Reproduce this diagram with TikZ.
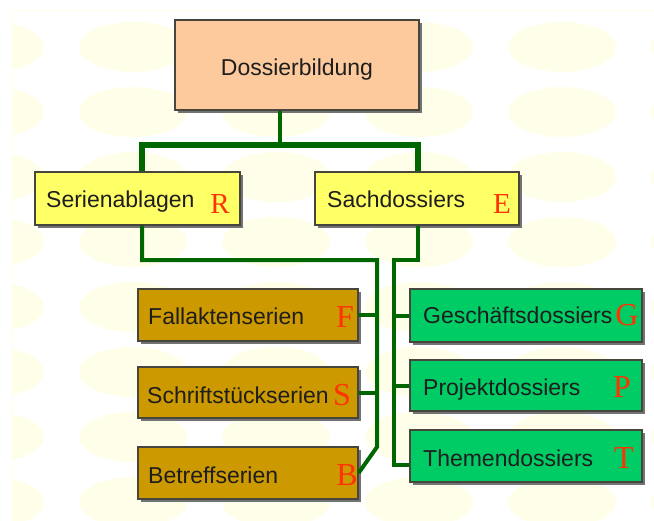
\documentclass[tikz,border=0pt]{standalone}
\usepackage{fontspec}
\setmainfont{Liberation Sans}
\newfontfamily\letterfont{Liberation Serif}
\usetikzlibrary{shadows}

\definecolor{peach}{RGB}{252,202,156}
\definecolor{lemon}{RGB}{255,255,102}
\definecolor{ochre}{RGB}{204,153,0}
\definecolor{mint}{RGB}{0,204,102}
\definecolor{wirecol}{RGB}{0,102,0}
\definecolor{letterred}{RGB}{255,51,0}
\definecolor{paleyellow}{RGB}{255,255,233}
\definecolor{inktext}{RGB}{30,30,30}
\definecolor{boxedge}{RGB}{70,70,60}

\begin{document}
\begin{tikzpicture}[x=1pt,y=-1pt,
  box/.style={draw=boxedge, line width=1.2pt, inner sep=0pt,
    drop shadow={shadow xshift=2.5pt, shadow yshift=-2.5pt, fill=black!55, opacity=1}},
  topbox/.style={box, fill=peach, minimum width=244pt, minimum height=90pt},
  midbox/.style={box, fill=lemon, minimum width=205pt, minimum height=53pt},
  serbox/.style={box, fill=ochre, minimum width=220pt, minimum height=52pt},
  sachbox/.style={box, fill=mint, minimum width=232pt, minimum height=52pt},
  lbl/.style={anchor=base west, inner sep=0pt, text=inktext, font=\fontsize{23}{27}\selectfont},
  ltr/.style={anchor=base, inner sep=0pt, text=letterred, font=\letterfont\fontsize{32}{36}\selectfont},
  ltrtop/.style={ltr, font=\letterfont\fontsize{29}{33}\selectfont},
  wire/.style={draw=wirecol, line width=4pt},
  bgell/.style={fill=paleyellow}]

\useasboundingbox (0,0) rectangle (654,520);

% background: white sheet with a grid of pale yellow ellipses
\fill[white] (0,0) rectangle (654,520);
\begin{scope}
  \clip (12,10) rectangle (654,520);
  \foreach \cx in {-10,133,276,419,562,705}
    \foreach \cy in {47,112,177,242,307,372,437,502,567}
      \fill[bgell] (\cx,\cy) ellipse [x radius=54, y radius=25];
\end{scope}
\draw[paleyellow, line width=1pt] (12,520) |- (654,10);

% boxes
\node[topbox] (top) at (297,65) {};
\node[midbox] (ser) at (137.5,198.5) {};
\node[midbox, minimum width=204pt] (sach) at (417,198.5) {};

\node[serbox] (fall) at (248,315) {};
\node[serbox, minimum height=51pt] (schr) at (248,392.5) {};
\node[serbox] (bet) at (248,473) {};

\node[sachbox, minimum height=53pt] (gesch) at (526,315.5) {};
\node[sachbox, minimum height=51pt] (proj) at (526,385.5) {};
\node[sachbox] (them) at (526,456) {};

% texts
\node[lbl, anchor=base] (top-t) at (297,75) {Dossierbildung};
\node[lbl] (ser-t) at (46,207) {Serienablagen};
\node[lbl] (sach-t) at (327,207) {Sachdossiers};
\node[lbl] (fall-t) at (148,324) {Fallaktenserien};
\node[lbl] (schr-t) at (147,403) {Schriftstückserien};
\node[lbl] (bet-t) at (148,483) {Betreffserien};
\node[lbl] (gesch-t) at (423,323) {Geschäftsdossiers};
\node[lbl] (proj-t) at (423,395) {Projektdossiers};
\node[lbl] (them-t) at (423,466) {Themendossiers};

% letters
\node[ltrtop] (ser-l) at (220,213) {R};
\node[ltrtop] (sach-l) at (502,213) {E};
\node[ltr] (fall-l) at (345,327) {F};
\node[ltr] (schr-l) at (342,405) {S};
\node[ltr] (bet-l) at (347,485) {B};
\node[ltr] (gesch-l) at (627,325) {G};
\node[ltr] (proj-l) at (622,397) {P};
\node[ltr] (them-l) at (624,468) {T};

% connectors
\coordinate (jtop) at (280,145);
\coordinate (jl) at (142,260);
\coordinate (jr) at (418,260);
\coordinate (tl) at (377,447);
\coordinate (tr) at (394,465);

\draw[wire] (top.south -| jtop) -- (jtop);
\draw[wire, line width=5.5pt] (ser.north -| jl) |- (jtop) -| (sach.north -| jr);
\draw[wire] (ser.south -| jl) -- (jl) -| (tl) -- (bet.east);
\draw[wire] (sach.south -| jr) -- (jr) -| (tr) -- (them.west |- tr);
\draw[wire] (fall.east) -- (fall.east -| tl);
\draw[wire] (schr.east) -- (schr.east -| tl);
\draw[wire] (gesch.west) -- (gesch.west -| tr);
\draw[wire] (proj.west) -- (proj.west -| tr);

\end{tikzpicture}
\end{document}
